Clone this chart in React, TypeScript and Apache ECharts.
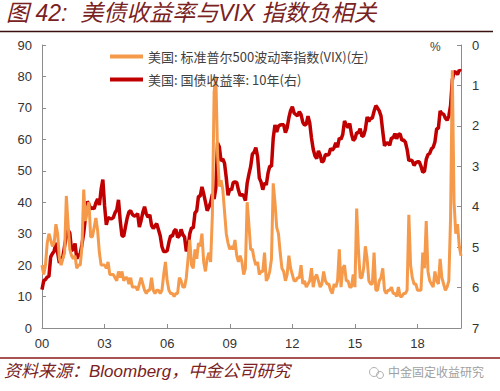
import React, { useEffect, useRef } from "react";
import * as echarts from "echarts";

// Monthly data, Jul 2000 .. Aug 2020
const startYear = 2000;
const startMonth = 6; // July (0-based)

const vix: number[] = [
  // 2000 Jul-Dec
  20, 17, 20, 27, 30, 28,
  // 2001
  26, 27, 33, 30, 22, 20, 22, 24, 42, 33, 25, 23,
  // 2002
  22, 23, 19, 20, 20, 26, 44, 34, 38, 40, 29, 29,
  // 2003
  32, 35, 31, 24, 20, 20, 20, 19, 21, 17, 17, 17,
  // 2004
  16, 15, 18, 16, 18, 15, 16, 16, 14, 16, 13, 13,
  // 2005
  13, 12, 14, 16, 14, 12, 11, 12, 12, 16, 12, 11,
  // 2006
  12, 12, 11, 12, 17, 21, 15, 12, 11, 11, 10, 11,
  // 2007
  11, 16, 15, 13, 13, 16, 22, 28, 20, 19, 25, 22,
  // 2008
  27, 26, 30, 21, 18, 22, 24, 21, 36, 75, 80, 55,
  // 2009
  45, 47, 44, 37, 30, 27, 25, 26, 25, 28, 23, 21,
  // 2010
  23, 21, 17, 19, 40, 33, 25, 25, 22, 20, 21, 17,
  // 2011
  18, 18, 24, 15, 16, 18, 22, 46, 40, 32, 30, 24,
  // 2012
  19, 18, 15, 17, 23, 19, 17, 15, 15, 16, 16, 20,
  // 2013
  14, 15, 13, 14, 15, 19, 13, 16, 17, 15, 13, 14,
  // 2014
  18, 15, 14, 14, 12, 11, 14, 13, 15, 25, 13, 19,
  // 2015
  20, 15, 15, 13, 13, 17, 13, 38, 25, 16, 16, 19,
  // 2016
  26, 22, 15, 14, 14, 24, 12, 12, 15, 16, 19, 12,
  // 2017
  11, 12, 12, 13, 11, 11, 10, 13, 10, 10, 11, 11,
  // 2018
  12, 36, 20, 16, 14, 14, 12, 12, 12, 24, 19, 34,
  // 2019
  18, 15, 14, 13, 18, 15, 14, 22, 16, 14, 12, 13,
  // 2020 Jan-Aug
  15, 35, 82, 40, 30, 33, 26, 23,
];

const ust10y: number[] = [
  // 2000 Jul-Dec
  6.05, 5.83, 5.80, 5.74, 5.72, 5.24,
  // 2001
  5.16, 5.10, 4.89, 5.14, 5.39, 5.28, 5.24, 4.97, 4.73, 4.57, 4.65, 5.09,
  // 2002
  5.04, 4.91, 5.28, 5.21, 5.16, 4.93, 4.65, 4.26, 3.87, 3.94, 4.05, 4.03,
  // 2003
  4.05, 3.90, 3.81, 3.96, 3.57, 3.33, 3.98, 4.45, 4.27, 4.29, 4.30, 4.27,
  // 2004
  4.15, 4.08, 3.83, 4.35, 4.72, 4.73, 4.50, 4.28, 4.13, 4.10, 4.19, 4.23,
  // 2005
  4.22, 4.17, 4.50, 4.34, 4.14, 4.00, 4.18, 4.26, 4.20, 4.46, 4.54, 4.47,
  // 2006
  4.42, 4.57, 4.72, 4.99, 5.11, 5.11, 5.09, 4.88, 4.72, 4.73, 4.60, 4.56,
  // 2007
  4.76, 4.72, 4.56, 4.69, 4.75, 5.10, 5.00, 4.67, 4.52, 4.53, 4.15, 4.10,
  // 2008
  3.74, 3.74, 3.51, 3.68, 3.88, 4.10, 4.01, 3.89, 3.69, 3.81, 3.53, 2.42,
  // 2009
  2.52, 2.87, 2.82, 2.93, 3.29, 3.72, 3.56, 3.59, 3.40, 3.39, 3.40, 3.59,
  // 2010
  3.73, 3.69, 3.73, 3.85, 3.42, 3.20, 3.01, 2.70, 2.65, 2.54, 2.76, 3.29,
  // 2011
  3.39, 3.58, 3.41, 3.46, 3.17, 3.00, 3.00, 2.30, 1.98, 2.15, 2.01, 1.98,
  // 2012
  1.97, 1.97, 2.17, 2.05, 1.80, 1.62, 1.53, 1.68, 1.72, 1.75, 1.65, 1.72,
  // 2013
  1.91, 1.98, 1.96, 1.76, 1.93, 2.30, 2.58, 2.74, 2.81, 2.62, 2.72, 2.90,
  // 2014
  2.86, 2.71, 2.72, 2.71, 2.56, 2.60, 2.54, 2.42, 2.53, 2.30, 2.33, 2.21,
  // 2015
  1.88, 1.98, 2.04, 1.94, 2.20, 2.36, 2.32, 2.17, 2.17, 2.07, 2.26, 2.24,
  // 2016
  2.09, 1.78, 1.89, 1.81, 1.81, 1.64, 1.50, 1.56, 1.63, 1.76, 2.14, 2.49,
  // 2017
  2.43, 2.42, 2.48, 2.30, 2.30, 2.19, 2.32, 2.21, 2.20, 2.36, 2.35, 2.40,
  // 2018
  2.58, 2.86, 2.84, 2.87, 2.98, 2.91, 2.89, 2.89, 3.00, 3.15, 3.12, 2.83,
  // 2019
  2.71, 2.68, 2.57, 2.53, 2.40, 2.07, 2.06, 1.63, 1.70, 1.71, 1.81, 1.86,
  // 2020 Jan-Aug
  1.76, 1.50, 0.87, 0.66, 0.67, 0.73, 0.62, 0.65,
];

const vixName = "美国: 标准普尔500波动率指数(VIX)(左)";
const yieldName = "美国: 国债收益率: 10年(右)";
const titleText = "图 42:  美债收益率与VIX 指数负相关";
const sourceText = "资料来源：Bloomberg，中金公司研究";
const watermarkText = "中金固定收益研究";

const leftTicks = { min: 0, max: 90, interval: 10 };
const rightTicks = { min: 0, max: 7, interval: 1 };
const labelEveryMonths = 36;

export default function App() {
  const ref = useRef<HTMLDivElement>(null);
  useEffect(() => {
    if (!ref.current) return;
    const chart = echarts.init(ref.current, undefined, { renderer: "svg" });
    const vixData = vix.map((v, i) => [i, v]);
    const yData = ust10y.map((v, i) => [i, v]);
    const axisGray = "#8c8c8c";
    const labelColor = "#333333";
    const maroon = "#7a2222";
    chart.setOption({
      animation: false,
      backgroundColor: "#ffffff",
      grid: { left: 42, right: 39, top: 45, bottom: 63, containLabel: false },
      legend: {
        data: [vixName, yieldName],
        orient: "vertical",
        left: 105,
        top: 45,
        itemWidth: 33,
        itemHeight: 4,
        itemGap: 10,
        icon: "rect",
        textStyle: {
          fontFamily: "Noto Sans CJK SC",
          fontSize: 13,
          color: "#404040",
        },
      },
      xAxis: {
        type: "value",
        min: 0,
        max: vix.length - 1,
        interval: labelEveryMonths,
        splitLine: { show: false },
        axisLine: { show: true, lineStyle: { color: axisGray, width: 1 } },
        axisTick: { show: true, inside: true, length: 4, lineStyle: { color: axisGray } },
        axisLabel: {
          showMaxLabel: false,
          margin: 9,
          color: labelColor,
          fontFamily: "Liberation Sans, Arial",
          fontSize: 13,
          formatter: (v: number) => {
            if (v % labelEveryMonths !== 0) return "";
            const y = Math.floor(startYear + (startMonth + v) / 12);
            return String(y % 100).padStart(2, "0");
          },
        },
      },
      yAxis: [
        {
          type: "value",
          min: leftTicks.min,
          max: leftTicks.max,
          interval: leftTicks.interval,
          splitLine: { show: false },
          axisLine: { show: true, lineStyle: { color: axisGray } },
          axisTick: { show: true, inside: true, length: 4, lineStyle: { color: axisGray } },
          axisLabel: {
            margin: 10,
            color: labelColor,
            fontFamily: "Liberation Sans, Arial",
            fontSize: 13,
          },
        },
        {
          type: "value",
          inverse: true,
          min: rightTicks.min,
          max: rightTicks.max,
          interval: rightTicks.interval,
          position: "right",
          splitLine: { show: false },
          axisLine: { show: true, lineStyle: { color: axisGray } },
          axisTick: { show: true, inside: true, length: 4, lineStyle: { color: axisGray } },
          axisLabel: {
            margin: 11,
            color: labelColor,
            fontFamily: "Liberation Sans, Arial",
            fontSize: 13,
          },
        },
      ],
      series: [
        {
          name: yieldName,
          type: "line",
          yAxisIndex: 1,
          data: yData,
          showSymbol: false,
          symbol: "none",
          lineStyle: { color: "#c00000", width: 3.5 },
          itemStyle: { color: "#c00000" },
          z: 2,
        },
        {
          name: vixName,
          type: "line",
          yAxisIndex: 0,
          data: vixData,
          showSymbol: false,
          symbol: "none",
          lineStyle: { color: "#f59a4b", width: 3 },
          itemStyle: { color: "#f59a4b" },
          z: 3,
        },
      ],
      graphic: [
        {
          type: "text",
          left: 6,
          top: 1,
          style: {
            text: titleText,
            fill: maroon,
            font: "italic 23px 'Liberation Sans', 'Noto Sans CJK SC'",
          },
        },
        {
          type: "line",
          shape: { x1: 0, y1: 31.5, x2: 493, y2: 31.5 },
          style: { stroke: "#3a1010", lineWidth: 1.5 },
        },
        {
          type: "text",
          left: 430,
          top: 41,
          style: {
            text: "%",
            fill: "#404040",
            font: "12px 'Liberation Sans', Arial",
          },
        },
        {
          type: "line",
          shape: { x1: 0, y1: 358, x2: 500, y2: 358 },
          style: { stroke: "#8b1a1a", lineWidth: 1.5 },
        },
        {
          type: "text",
          left: 4,
          top: 363,
          style: {
            text: sourceText,
            fill: maroon,
            font: "italic 17px 'Liberation Sans', 'Noto Sans CJK SC'",
          },
        },
        {
          type: "circle",
          shape: { cx: 374, cy: 372, r: 4.5 },
          style: { fill: "none", stroke: "#b0b0b0", lineWidth: 1 },
        },
        {
          type: "circle",
          shape: { cx: 380, cy: 375, r: 3.5 },
          style: { fill: "none", stroke: "#b0b0b0", lineWidth: 1 },
        },
        {
          type: "text",
          left: 388,
          top: 365,
          style: {
            text: watermarkText,
            fill: "#a0a0a0",
            font: "12px 'Noto Sans CJK SC'",
          },
        },
      ],
    });
    return () => chart.dispose();
  }, []);
  return (
    <div
      ref={ref}
      style={{ position: "fixed", left: 0, top: 0, width: 500, height: 391, background: "#fff" }}
    />
  );
}
